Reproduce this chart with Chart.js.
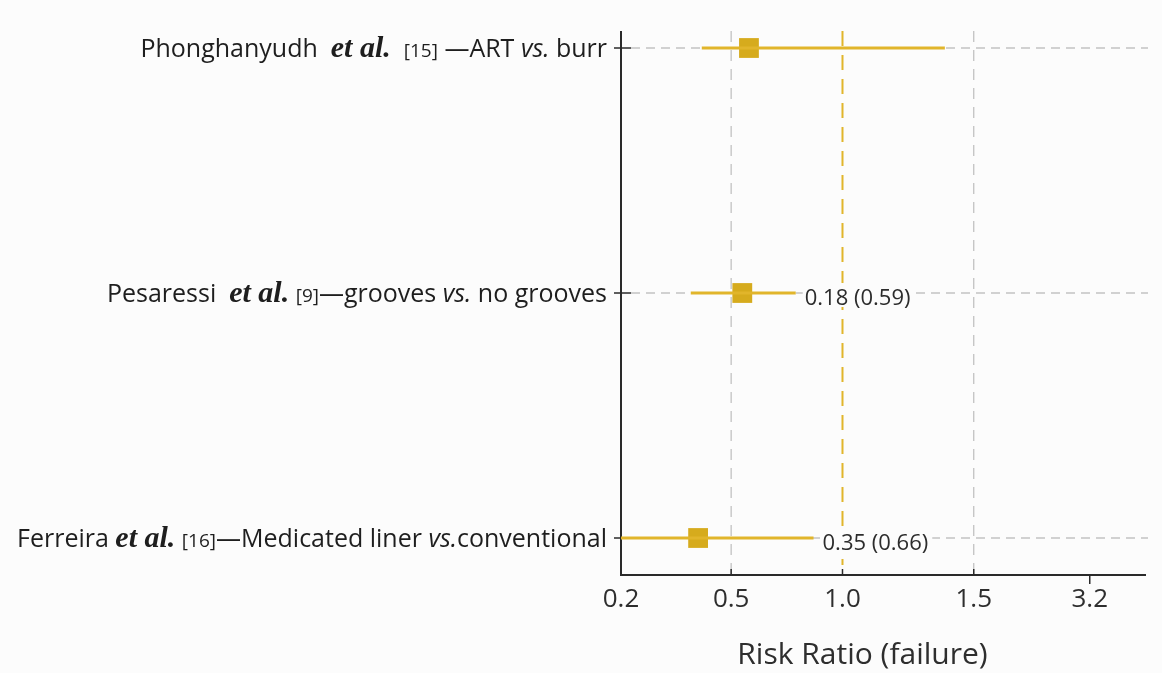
<!DOCTYPE html>
<html>
<head>
<meta charset="utf-8">
<script src="https://cdn.jsdelivr.net/npm/chart.js@4.4.1/dist/chart.umd.min.js"></script>
<style>
  html, body { margin: 0; background: #fcfcfc; }
</style>
</head>
<body>
<canvas id="chart" width="1162" height="673"></canvas>
<script>
// forest plot rows, top to bottom
// ~serif bold italic~  ^small ref^  _italic_
const studyLabels = [
    "Phonghanyudh  ~et al.~  ^[15]^ \u2014ART _vs._ burr",
    "Pesaressi  ~et al.~ ^[9]^\u2014grooves _vs._ no grooves",
    "Ferreira ~et al.~ ^[16]^\u2014Medicated liner _vs._conventional"
];
const riskRatio = [0.58, 0.55, 0.41];
const ciLow = [0.42, 0.39, 0.20];
const ciHigh = [1.39, 0.79, 0.87];
const effectText = ["", "0.18 (0.59)", "0.35 (0.66)"];

// the axis is not evenly spaced, ticks sit at these axis units
const tickValues = [0.2, 0.5, 1.0, 1.5, 3.2];
const tickSpots = [0, 0.94, 1.89, 3.01, 4.0];

const gold = "#E1B52B";
const goldDark = "#D6AB1D";
const sans = "'Open Sans'";
const fonts = {
    "": "25px " + sans,
    "~": "italic bold 30px 'Liberation Serif'",
    "^": "19px " + sans,
    "_": "italic 25px " + sans
};

function toAxis(v) {
    for (let i = 1; i < tickValues.length; i++) {
        if (v <= tickValues[i]) {
            let f = (v - tickValues[i - 1]) / (tickValues[i] - tickValues[i - 1]);
            return tickSpots[i - 1] + f * (tickSpots[i] - tickSpots[i - 1]);
        }
    }
    return tickSpots[tickSpots.length - 1];
}

function line(ctx, x1, y1, x2, y2) {
    ctx.beginPath();
    ctx.moveTo(x1, y1);
    ctx.lineTo(x2, y2);
    ctx.stroke();
}

// split a label into runs of text with their font
function parseLabel(s) {
    let parts = [], cur = "", mode = "";
    for (const ch of s) {
        if (ch === "~" || ch === "^" || ch === "_") {
            if (cur) parts.push({ t: cur, f: fonts[mode] });
            cur = "";
            mode = mode === ch ? "" : ch;
        } else {
            cur += ch;
        }
    }
    if (cur) parts.push({ t: cur, f: fonts[mode] });
    return parts;
}

const forestDecor = {
    id: "forestDecor",
    beforeDatasetsDraw(chart) {
        const { ctx, chartArea: a, scales: { x, y } } = chart;
        ctx.save();

        // row guides
        ctx.strokeStyle = "#c2c2c2";
        ctx.lineWidth = 1.3;
        ctx.setLineDash([9, 6]);
        studyLabels.forEach((_, i) => {
            let py = y.getPixelForValue(i);
            line(ctx, a.left + 10, py, a.right + 2, py);
        });

        // vertical guides
        ctx.setLineDash([11, 8]);
        [0.5, 1.5].forEach(v => {
            let px = x.getPixelForValue(toAxis(v));
            line(ctx, px, a.top, px, a.bottom);
        });

        // line of no effect
        ctx.strokeStyle = gold;
        ctx.lineWidth = 2;
        ctx.setLineDash([15, 9]);
        let p1 = x.getPixelForValue(toAxis(1));
        line(ctx, p1, a.top, p1, a.bottom - 10);

        // axes
        ctx.setLineDash([]);
        ctx.strokeStyle = "#2a2a2a";
        ctx.lineWidth = 2;
        line(ctx, a.left, a.top, a.left, a.bottom + 1);
        line(ctx, a.left, a.bottom, a.right, a.bottom);
        ctx.lineWidth = 1.5;
        studyLabels.forEach((_, i) => {
            let py = y.getPixelForValue(i);
            line(ctx, a.left - 7, py, a.left + 10, py);
        });
        tickValues.forEach(v => {
            let px = x.getPixelForValue(toAxis(v));
            if (v === 3.2) line(ctx, px, a.bottom, px, a.bottom + 9);
            else if (v !== 0.2) line(ctx, px, a.bottom - 6, px, a.bottom);
        });
        ctx.restore();
    },
    afterDatasetsDraw(chart) {
        const { ctx, chartArea: a, scales: { x, y } } = chart;
        ctx.save();
        ctx.textBaseline = "alphabetic";
        ctx.textAlign = "left";

        // effect text to the right of the interval
        ctx.font = "22px " + sans;
        effectText.forEach((txt, i) => {
            if (!txt) return;
            let px = x.getPixelForValue(toAxis(ciHigh[i])) + 9;
            let py = y.getPixelForValue(i);
            let w = ctx.measureText(txt).width;
            ctx.fillStyle = "#fcfcfc";
            ctx.fillRect(px - 2, py - 10, w + 6, 24);
            ctx.fillStyle = "#2c2c2c";
            ctx.fillText(txt, px, py + 12);
        });

        // study labels, right aligned to the axis
        ctx.fillStyle = "#1e1e1e";
        studyLabels.forEach((label, i) => {
            let parts = parseLabel(label);
            let total = 0;
            parts.forEach(p => { ctx.font = p.f; total += ctx.measureText(p.t).width; });
            let px = a.left - 14 - total;
            let py = y.getPixelForValue(i) + 9;
            parts.forEach(p => {
                ctx.font = p.f;
                ctx.fillText(p.t, px, py);
                px += ctx.measureText(p.t).width;
            });
        });

        // tick labels and axis title
        ctx.fillStyle = "#2e2e2e";
        ctx.textAlign = "center";
        ctx.font = "26px " + sans;
        tickValues.forEach(v => {
            ctx.fillText(v.toFixed(1), x.getPixelForValue(toAxis(v)), a.bottom + 32);
        });
        ctx.font = "30px " + sans;
        ctx.fillText("Risk Ratio (failure)", x.getPixelForValue(toAxis(1)) + 20, a.bottom + 89);
        ctx.restore();
    }
};

const ciSets = studyLabels.map((_, i) => ({
    type: "line",
    data: [{ x: toAxis(ciLow[i]), y: i }, { x: toAxis(ciHigh[i]), y: i }],
    borderColor: gold,
    borderWidth: 3,
    pointRadius: 0
}));

const pointSet = {
    type: "scatter",
    data: riskRatio.map((v, i) => ({ x: toAxis(v), y: i })),
    pointStyle: "rect",
    pointRadius: 14,
    backgroundColor: goldDark,
    borderWidth: 0
};

new Chart(document.getElementById("chart"), {
    type: "scatter",
    data: { datasets: [...ciSets, pointSet] },
    options: {
        responsive: false,
        devicePixelRatio: 1,
        animation: false,
        layout: { padding: { left: 621, right: 16, top: 31, bottom: 98 } },
        plugins: { legend: { display: false }, tooltip: { enabled: false } },
        scales: {
            x: { type: "linear", display: false, min: 0, max: 4.48 },
            y: { type: "linear", display: false, min: -0.0694, max: 2.151, reverse: true }
        }
    },
    plugins: [forestDecor]
});
</script>
</body>
</html>
